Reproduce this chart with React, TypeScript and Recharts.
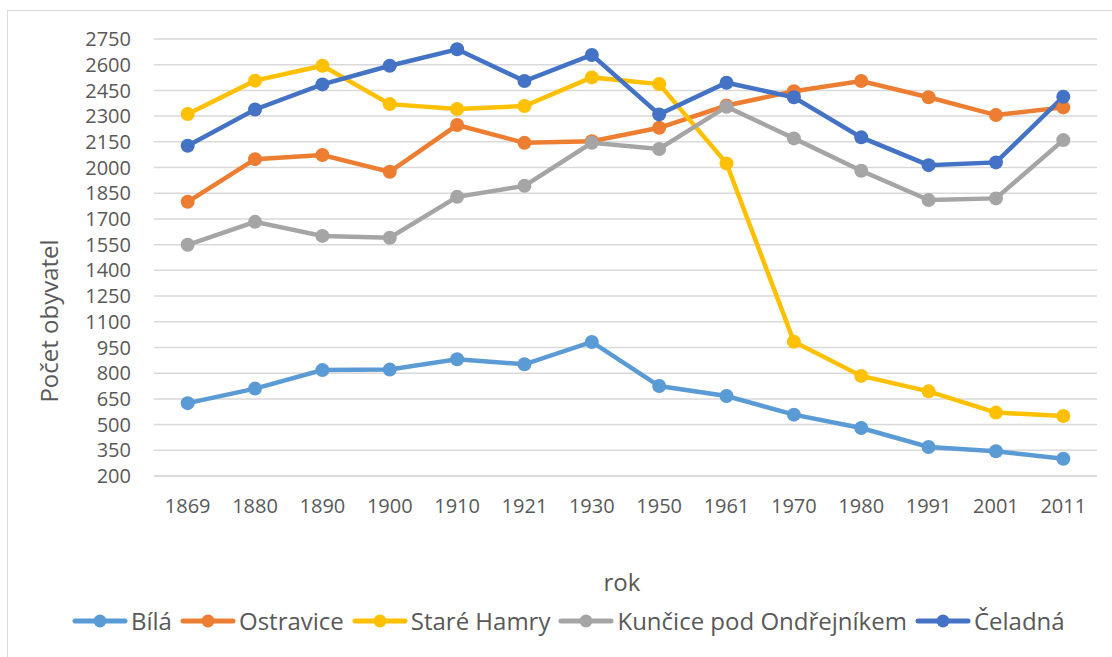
import React from 'react';
import { LineChart, Line, XAxis, YAxis, CartesianGrid, Legend } from 'recharts';

const years = ['1869', '1880', '1890', '1900', '1910', '1921', '1930', '1950', '1961', '1970', '1980', '1991', '2001', '2011'];
const bila = [625, 710, 818, 821, 881, 852, 982, 725, 667, 558, 480, 369, 344, 301];
const ostravice = [1800, 2049, 2073, 1975, 2248, 2144, 2154, 2232, 2362, 2445, 2505, 2410, 2306, 2351];
const stareHamry = [2312, 2507, 2594, 2370, 2341, 2359, 2526, 2487, 2024, 984, 784, 694, 570, 550];
const kuncice = [1549, 1683, 1601, 1590, 1829, 1893, 2144, 2108, 2355, 2170, 1981, 1810, 1820, 2160];
const celadna = [2127, 2339, 2485, 2594, 2690, 2505, 2657, 2310, 2495, 2410, 2176, 2014, 2030, 2413];
const yTicks = [200, 350, 500, 650, 800, 950, 1100, 1250, 1400, 1550, 1700, 1850, 2000, 2150, 2300, 2450, 2600, 2750];

const seriesNames = ['Bílá', 'Ostravice', 'Staré Hamry', 'Kunčice pod Ondřejníkem', 'Čeladná'];
const seriesColors = ['#5B9BD5', '#ED7D31', '#FFC000', '#A5A5A5', '#4472C4'];
const seriesValues = [bila, ostravice, stareHamry, kuncice, celadna];
const seriesKeys = ['bila', 'ostravice', 'stareHamry', 'kuncice', 'celadna'];

const data = years.map((y, i) => {
  const row: Record<string, string | number> = { year: y };
  seriesKeys.forEach((k, s) => {
    row[k] = seriesValues[s][i];
  });
  return row;
});

const FONT = '"Open Sans", "Noto Sans", sans-serif';
const TEXT = '#595959';

const LegendContent = () => (
  <div
    style={{
      display: 'flex',
      alignItems: 'center',
      paddingLeft: 72,
      fontFamily: FONT,
      fontSize: 24,
      color: TEXT,
      whiteSpace: 'nowrap',
    }}
  >
    {seriesNames.map((n, i) => (
      <div key={n} style={{ display: 'flex', alignItems: 'center', marginRight: 8 }}>
        <svg width={56} height={16} style={{ marginRight: 3 }}>
          <line x1={3} y1={8} x2={53} y2={8} stroke={seriesColors[i]} strokeWidth={5} strokeLinecap="round" />
          <circle cx={28} cy={8} r={6.5} fill={seriesColors[i]} />
        </svg>
        <span>{n}</span>
      </div>
    ))}
  </div>
);

export default function App() {
  return (
    <div
      style={{
        position: 'absolute',
        left: 0,
        top: 0,
        width: 1112,
        height: 657,
        overflow: 'hidden',
        background: '#fff',
        fontFamily: FONT,
      }}
    >
      <div
        style={{
          position: 'absolute',
          left: 7,
          top: 10,
          width: 1130,
          height: 670,
          border: '1px solid #d9d9d9',
        }}
      />
      <div style={{ position: 'absolute', left: 0, top: 0 }}>
        <LineChart width={1112} height={657} data={data} margin={{ top: 39, right: 15, left: 0, bottom: 121 }}>
          <CartesianGrid vertical={false} stroke="#d9d9d9" strokeWidth={1.5} />
          <XAxis
            dataKey="year"
            height={60}
            padding={{ left: 33.7, right: 33.7 }}
            axisLine={{ stroke: '#d9d9d9', strokeWidth: 1.5 }}
            tickLine={false}
            tickMargin={17}
            interval={0}
            tick={{ fill: TEXT, fontSize: 20, fontFamily: FONT }}
            label={{
              content: () => (
                <text x={622} y={581} textAnchor="middle" dominantBaseline="central" fill={TEXT} fontSize={24} fontFamily={FONT}>
                  rok
                </text>
              ),
            }}
          />
          <YAxis
            width={154}
            domain={[200, 2750]}
            ticks={yTicks}
            interval={0}
            axisLine={false}
            tickLine={false}
            tickMargin={17}
            tick={{ fill: TEXT, fontSize: 20, fontFamily: FONT }}
            label={{
              content: () => (
                <text
                  x={48}
                  y={321}
                  transform="rotate(-90 48 321)"
                  textAnchor="middle"
                  dominantBaseline="central"
                  fill={TEXT}
                  fontSize={24}
                  fontFamily={FONT}
                >
                  Počet obyvatel
                </text>
              ),
            }}
          />
          <Legend
            layout="horizontal"
            verticalAlign="middle"
            align="center"
            wrapperStyle={{ position: 'absolute', top: 604, left: 0, width: 1112 }}
            content={() => <LegendContent />}
          />
          {seriesKeys.map((k, i) => (
            <Line
              key={k}
              type="linear"
              dataKey={k}
              name={seriesNames[i]}
              stroke={seriesColors[i]}
              strokeWidth={4.5}
              dot={{ r: 7, fill: seriesColors[i], stroke: seriesColors[i], strokeWidth: 0 }}
              activeDot={false}
              isAnimationActive={false}
            />
          ))}
        </LineChart>
      </div>
    </div>
  );
}
